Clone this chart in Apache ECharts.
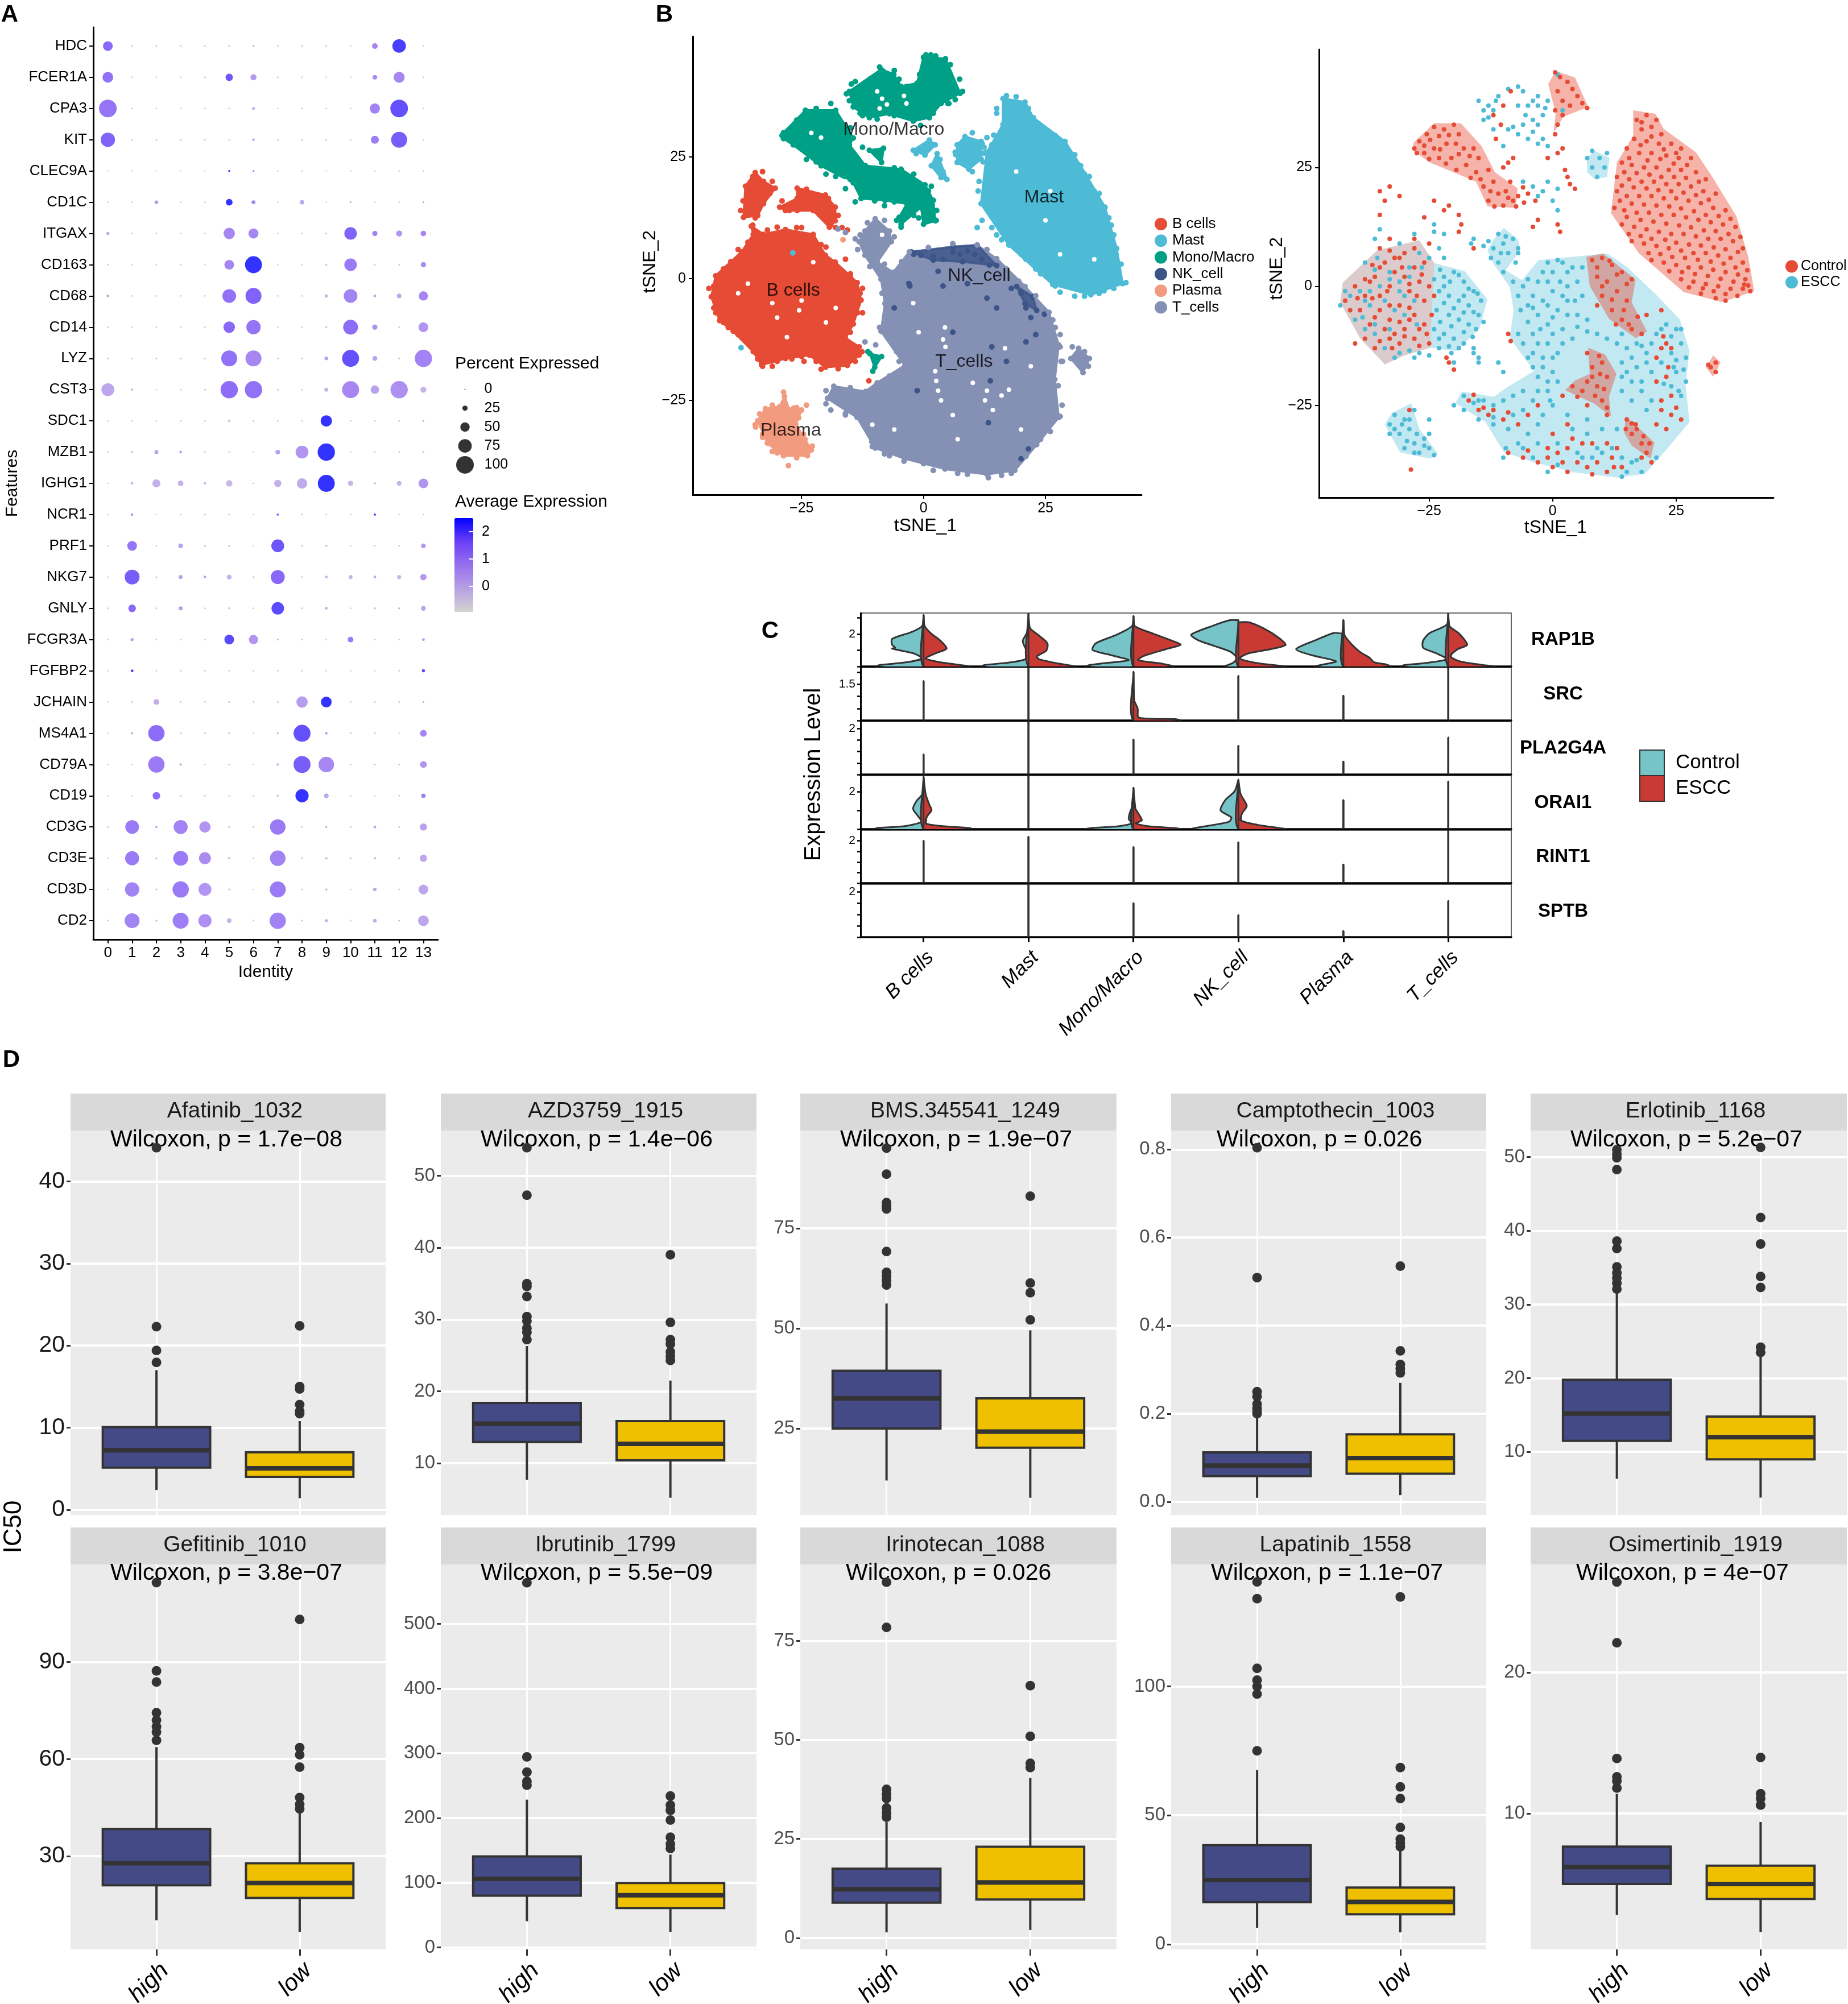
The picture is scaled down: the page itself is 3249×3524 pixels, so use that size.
<!DOCTYPE html>
<html>
<head>
<meta charset="utf-8">
<title>scRNA figure</title>
<script src="https://cdn.jsdelivr.net/npm/echarts@6/dist/echarts.min.js"></script>
<style>html,body{margin:0;background:#fff}#main{width:3249px;height:3524px}</style>
</head>
<body>
<div id="main"></div>
<script>
// ---------- panel A: dot plot ----------
var dotIdents = ['0','1','2','3','4','5','6','7','8','9','10','11','12','13'];
var dotGenes = ['HDC','FCER1A','CPA3','KIT','CLEC9A','CD1C','ITGAX','CD163','CD68','CD14','LYZ','CST3','SDC1','MZB1','IGHG1','NCR1','PRF1','NKG7','GNLY','FCGR3A','FGFBP2','JCHAIN','MS4A1','CD79A','CD19','CD3G','CD3E','CD3D','CD2'];
var dotPercent = [
[52,3,3,3,3,3,5,3,3,3,3,28,75,3],
[58,3,3,3,3,38,30,3,3,3,3,22,60,3],
[100,3,3,3,3,3,10,3,3,3,3,55,100,3],
[80,3,3,3,3,3,8,3,3,3,3,42,90,3],
[1,1,1,1,1,5,4,2,2,1,2,2,2,2],
[3,3,15,3,3,34,17,2,20,2,5,2,2,5],
[12,2,2,2,2,62,54,2,2,3,69,25,30,27],
[3,2,2,2,2,52,96,2,2,5,69,3,3,25],
[10,2,3,3,2,76,90,2,3,12,76,10,22,49],
[3,2,2,2,3,63,80,2,2,5,83,25,3,52],
[4,2,3,3,3,90,90,4,3,15,96,22,3,98],
[71,8,2,3,4,98,98,4,3,17,96,44,98,29],
[2,2,2,3,2,5,3,3,2,62,3,3,3,5],
[3,6,17,10,3,3,3,22,71,98,3,3,3,4],
[2,8,42,27,8,32,3,37,56,96,25,6,22,52],
[2,6,2,3,3,3,2,6,3,3,3,6,2,2],
[2,52,3,22,5,5,2,71,3,6,3,3,3,22],
[2,83,4,17,10,22,3,78,3,10,17,10,17,32],
[3,39,3,17,3,5,3,69,3,10,3,5,5,22],
[2,12,2,2,2,52,49,4,3,2,27,3,2,10],
[2,10,2,3,3,3,3,3,3,2,3,2,3,12],
[2,3,27,3,3,4,3,4,62,58,3,3,3,5],
[2,8,92,3,3,4,2,5,96,10,4,3,2,34],
[2,2,92,8,2,3,2,8,96,87,3,3,3,34],
[2,2,39,3,3,3,3,5,73,22,3,2,3,20],
[3,76,8,78,62,5,3,87,3,6,3,10,3,37],
[2,78,5,83,66,6,3,87,3,7,4,6,4,37],
[2,80,5,92,71,5,2,90,3,6,2,15,3,52],
[3,83,5,90,73,22,3,92,3,12,3,15,4,58]
];
var dotExpr = [
[1.6,-.4,-.4,-.4,-.4,-.2,0,-.4,-.4,-.4,-.4,.9,2.3,-.4],
[1.4,-.4,-.4,-.4,-.4,1.9,.5,-.4,-.4,-.4,-.4,.8,.9,-.4],
[1.3,-.4,-.4,-.4,-.4,-.3,.2,-.4,-.4,-.4,-.4,1,2,-.4],
[1.7,-.4,-.4,-.4,-.4,-.3,.3,-.4,-.4,-.4,-.4,1.1,1.8,-.4],
[-.3,-.3,-.3,-.3,-.3,2.5,1.2,-.3,-.3,-.3,-.3,-.3,-.3,-.3],
[-.4,-.4,.6,-.4,-.4,2.5,.9,-.4,.2,-.4,.1,-.4,-.4,.3],
[.2,-.4,-.4,-.4,-.4,.9,.9,-.4,-.4,-.4,1.7,1,.6,.9],
[-.4,-.4,-.4,-.4,-.4,.9,2.5,-.4,-.4,-.2,1.2,-.4,-.4,.8],
[.1,-.4,-.4,-.4,-.4,1.4,1.7,-.4,-.4,0,1,.2,.2,.9],
[-.4,-.4,-.4,-.4,-.4,1.6,1.3,-.4,-.4,-.3,1.5,.7,-.4,.6],
[-.3,-.4,-.4,-.4,-.4,1.4,.9,-.3,-.4,.3,2,.3,-.4,1],
[.2,-.2,-.4,-.4,-.3,1.5,1.4,-.3,-.4,-.1,.9,.3,.7,-.1],
[-.4,-.4,-.4,-.3,-.4,.2,-.3,-.3,-.4,2.5,-.2,-.4,-.4,.1],
[-.4,-.2,.3,.2,-.4,-.3,-.4,.3,.6,2.5,-.4,-.4,-.4,-.2],
[-.4,0,0,-.1,-.2,-.2,-.4,0,.1,2.5,-.1,-.2,-.1,.6],
[-.4,1.5,-.4,-.3,-.3,-.3,-.4,1.8,-.3,-.3,-.2,2.5,-.4,-.4],
[-.4,1.3,-.4,.3,-.2,-.2,-.4,1.9,-.3,-.2,-.3,-.3,-.3,.6],
[-.4,1.8,-.3,.3,.2,-.1,-.3,1.6,-.3,0,-.1,.2,-.1,.5],
[-.3,1.6,-.3,.4,-.3,-.2,-.3,2.1,-.3,0,-.3,-.1,-.1,.3],
[-.4,.3,-.4,-.4,-.4,2.1,.6,-.1,-.3,-.4,1.2,-.3,-.4,.3],
[-.4,2.3,-.4,-.3,-.3,-.3,-.3,-.3,-.3,-.4,-.3,-.4,-.3,2.2],
[-.4,-.3,.1,-.3,-.3,-.2,-.3,-.2,.4,2.5,-.3,-.3,-.3,-.1],
[-.4,0,1.5,-.3,-.3,-.2,-.4,-.1,2,.1,-.3,-.3,-.4,.9],
[-.4,-.4,1.2,-.1,-.4,-.3,-.4,-.1,1.8,.9,-.3,-.3,-.3,.6],
[-.4,-.4,1.5,-.3,-.3,-.3,-.3,-.1,2.5,.1,-.3,-.4,-.3,1],
[-.3,1.2,-.1,1,.6,-.2,-.3,1.2,-.3,-.1,-.3,.2,-.3,.3],
[-.4,1.2,-.2,1.2,.8,-.1,-.3,1,-.3,-.1,-.2,0,-.2,.2],
[-.4,1,-.2,1.2,.6,-.2,-.4,1.2,-.3,-.1,-.4,.1,-.3,.2],
[-.3,1,-.2,1.1,.7,-.1,-.3,1,-.3,0,-.3,.1,-.2,.2]
];
var pctLegend = [0,25,50,75,100];
var exprTicks = [0,1,2];

// ---------- panel B: tSNE maps ----------
// The maps hold several thousand cells. The clusters are kept as outlines read off the
// picture, with a hand-read sample of individual cells drawn on top of them.
var cellTypes = ['B cells','Mast','Mono/Macro','NK_cell','Plasma','T_cells'];
var cellColors = ['#E64B35','#4DBBD5','#00A087','#3C5488','#F39B7F','#8491B4'];
var clusterLabels = [[-26.7,-2.5],[24.7,16.7],[-6.1,30.6],[11.4,.6],[-27.2,-31.2],[8.3,-17.1]];
var bOutlines = [
[[-43.5,-3.7],[-42.6,.6],[-37.3,5.5],[-34.9,9.1],[-35.3,10.8],[-32.8,9.1],[-28.3,10.1],[-22.6,9.1],[-20.1,4.8],[-18.1,3.4],[-13.6,-.8],[-12.8,-4.4],[-14.4,-9.3],[-16,-12.2],[-13.2,-14],[-13.2,-15.7],[-15.6,-17.8],[-20.1,-18.2],[-23.4,-15.7],[-28.3,-16.4],[-33.2,-17.7],[-34.9,-15],[-39,-10.8],[-41.8,-8.6]],
[[-36.9,12.6],[-36.5,19],[-34.5,21.8],[-32.8,20],[-30.4,18.6],[-32.8,15.4],[-34,13]],
[[-29.5,14.7],[-25.9,16.5],[-25.9,18.6],[-20.1,17.2],[-18.1,14.7],[-18.1,11.9],[-19.3,10.6],[-22.6,14],[-25.9,14],[-28.3,14]]
];
var mastOutlines = [
[[16.3,37],[20.8,36.3],[22.5,33.1],[29,28.2],[32.2,23.2],[37.2,14.7],[39.6,6.2],[40.8,-1],[34.3,-3.3],[26.5,-1.2],[17.5,6.9],[11.8,15.4],[13,26],[16.3,31.7]],
[[6.9,27.5],[8.5,29.2],[11.8,28.2],[11.8,24.6],[9.3,22.5],[6.9,23.9]],
[[-2.1,26.4],[1.2,28.5],[2.4,27.5],[.3,25.4]],
[[1.6,23.2],[2.8,25.7],[4.8,20.4],[3.6,20.8]]
];
var monoOutlines = [
[[-15.2,38.5],[-8.7,43],[-6.1,42],[-4.6,39.5],[-1.3,40.2],[0,45.5],[4.5,45.2],[7.5,38.1],[3.6,36],[1.2,33.1],[-2.1,32.4],[-7,33.9],[-11.1,33.1],[-14.4,35.3]],
[[-28.7,30],[-24.2,34.6],[-18,34.6],[-14.4,28.9],[-15.2,27.5],[-11.9,23.2],[-4.6,22.5],[.3,19.3],[2,16.1],[2.4,11.9],[0,11.2],[-.5,14.7],[-4.6,11.2],[-5,12.6],[-3.4,15.4],[-7.9,16.1],[-12.8,16.5],[-14.4,19.7],[-21,23.2],[-26.7,27.5],[-28.7,28.8]],
[[-11.1,26.4],[-8.2,26.8],[-8.6,23.9]],
[[-11,-15.4],[-8.6,-16],[-10,-18.2]]
];
var tOutlines = [
[[-12,9.8],[-9.9,12.3],[-7,9.8],[-6.6,7.6],[-9.5,3.4],[-6.2,1.3],[-2.9,5.5],[11,6.9],[15,4.1],[20.8,-1.6],[25.7,-6.9],[27.7,-13.6],[26.9,-20.7],[27.7,-28.5],[23.2,-34.1],[18.7,-39.4],[13,-40.2],[4.4,-39.1],[-3.8,-37],[-9.9,-34.8],[-13.6,-28.5],[-19.7,-24.6],[-18.4,-22.1],[-11.9,-23.2],[-9.5,-21.4],[-3.8,-17.8],[-8.7,-10.8],[-7.9,-5.1],[-8.7,-.1],[-12,4.8],[-13.2,7.6]],
[[30.2,-16.4],[31.8,-14.3],[34,-16.4],[32.7,-19.3]]
];
var nkOutlines = [
[[-2.5,5.5],[6.1,6.6],[11,6.9],[15,2.7],[8,3.5],[2,3.8]],
[[19.1,-1.6],[22.4,-3.7],[23.2,-6.5],[20.8,-5.1]]
];
var plasmaOutlines = [
[[-34,-29.2],[-32.4,-26.7],[-29.5,-26.3],[-28.5,-24.2],[-27.5,-27],[-25,-27],[-26.2,-29.9],[-23,-35.2],[-23.8,-36.4],[-28.7,-36.4],[-32,-33.8]]
];
var bCells = [[-35,11],[-34.5,12.5],[-38,6],[-41,-9],[-44,-2],[-43,-6],[-30,10.6],[-26,10.5],[-23,8],[-18.5,2],[-15,1],[-12.5,-2],[-12.5,-7],[-15,-11],[-17,-13],[-14,-17],[-21,-18.6],[-22,-17],[-25,-16],[-30,-17],[-33,-18],[-36,-13],[-37,-11],[-40,-10],[-16,4],[-20,6.5],[-16.7,10.5],[-15.6,10],[-11.2,-21],[-37,16],[-36,14],[-33,17],[-31.5,17.5],[-28,14.5],[-27,15],[-23,17.6],[-21,16],[-18,13],[-19,11],
[-43,-1.5],[-41,2],[-39.5,3.5],[-36,7.5],[-32,10],[-25,10.5],[-21,7],[-19.5,4],[-15,.5],[-13,-3],[-13.5,-7],[-15.5,-10.5],[-12.6,-15],[-14.5,-16.5],[-17.5,-18.5],[-24.5,-17],[-27,-16.5],[-31,-18],[-34,-16.5],[-38,-11.5],[-40,-10],[-42.6,-7],[-37.5,14],[-36,18],[-33,22],[-35,21],[-31,20],[-29,16],[-27.5,14],[-24,18.4],[-19.5,16.5],[-17.5,13],[-18,10.5]];
var mastCells = [[15,35],[19,37.4],[24,31],[27,29.4],[31,25.5],[34,21],[36,17.5],[38.5,11],[40.5,3],[41.5,-.8],[37,-2.5],[33,-3.6],[27,-1.5],[23,2],[20,5],[15,9],[12,12],[11,10.5],[11.2,18],[12.2,24],[14,27.5],[13,29],[28,-.5],[37.5,-1.2],[-26.8,5.3],[-37.4,-14.2],[10,30],[6.5,26],[-1.5,25.7],[3.4,24.5],[4,22],
[17,37.6],[15,34],[21.5,35],[23.5,31.8],[26,30],[33,21.5],[35,18],[38,12.5],[39,9],[39,-2],[36,-3],[31,-3.6],[28,-2.8],[24,1],[21,4],[16,8],[14,10.5],[11.4,20],[12.4,27],[14.4,29.5],[6.6,25.5],[10,22],[12.4,25.8],[12,27.8]];
var monoCells = [[-8.2,42.6],[-11,39.6],[-14.8,40],[-15.2,36.6],[-5,41],[-2.8,38],[.5,46],[2.5,45.8],[7.4,41],[6.5,36.8],[5.2,36],[1,34],[-.6,31.5],[-12.5,33.5],[-19,36],[-26,32],[-22,24],[-23,26],[-18,21],[-13,20],[-14,15.8],[-8,15],[-6,15.8],[-1,19],[1.6,19],[1.5,13],[-2,13],[-3.6,13],[-4.6,10.6],[-11.4,-15],[-10.4,-19],
[-15.8,38],[-14,40.5],[-11,41],[-9,43.5],[-6,42.8],[-3.5,39.5],[-.8,42],[1.5,46],[5.5,44],[8,38.5],[5,36],[2,34],[-6,33.5],[-9.5,32.8],[-13,34],[-29,29.4],[-26,32.6],[-22,35],[-15,31],[-12.5,27],[-13,22],[-6,22.8],[-2,21.5],[1,18],[2.7,14],[2.6,12],[-1,12.5],[-5.5,12],[-10,16],[-16,18.5],[-20,21.5],[-24,24.5]];
var nkCells = [[-2,5],[-.5,4.8],[2,4.5],[4,4],[6,5.5],[7.5,5],[9,5.7],[10.5,5],[12,4],[13.5,2.8],[-6,-6],[-3,-1],[-2.8,-1.5],[3,1.5],[4,-1.5],[9,-1],[13,-4],[15,-6],[18,-2],[20,-3],[21,-6],[22,-8],[24.8,-7.3],[6,-11],[14,-14],[17,-17],[21,-13],[23,-11.5],[13.7,-21],[13.3,-29.6],[21.5,-35],[20,-37],[-1.3,-23]];
var plasmaCells = [[-28.7,-23.3],[-26,-26.5],[-24,-26],[-27.7,-38.4],[-34.5,-30],[-33,-32],[-24.3,-33],[-16.5,8],[-31,-35.5],[-29,-35],[-27,-30.5],
[-34.4,-30.5],[-33.6,-27.8],[-31,-26],[-26.6,-26.6],[-25.6,-28.6],[-24.6,-32],[-22.8,-34.4],[-26,-36.8],[-30,-35.8],[-33,-32.6]];
var tCells = [[-14,8.2],[-13.5,6],[-11,2.5],[-8,3],[-12,-13],[-9,-10],[-9.8,-13.6],[-5,-17],[-7,-20.5],[-20,-25.7],[-19,-27],[-16,-27.7],[-11.5,-29],[-10.5,-34.5],[-8,-36],[-4,-37.5],[2,-39.4],[9,-40.2],[13.3,-40.9],[18,-40],[26,-25],[28,-28.3],[25.5,-31],[28,-14],[27,-10],[30.5,-14],[33.8,-18],[33,-15],[28.5,-17],[-16,9.5],[-17.5,10.2],
[-13,9],[-11.5,11.5],[-8,12],[-6,8.6],[-8.5,1.5],[-4.5,3.5],[1,6.4],[6,7.2],[13,6],[17,2],[19.5,-.5],[23,-3.5],[26.5,-8.5],[28,-11.5],[28.2,-17],[27.6,-22],[28.4,-26],[26,-31.4],[24,-33],[21,-36.5],[16,-40.4],[7,-40],[0,-38],[-7,-36.4],[-10.6,-33.5],[-12,-30.5],[-16,-28],[-20,-23],[-15,-22.4],[-7,-20],[-5.5,-15],[-8,-8.5],[-8.5,-3]];
var bGaps = [[-25.5,-6.5],[-25,-4.5],[-22.6,3.4],[-36,-1],[-31,-5],[-20,-9],[-28,-12],[-8.5,37],[-7.5,35.8],[-9,35],[-9.5,38.5],[-3.5,36],[-4,37.6],[-21,29],[-23,30],[-16,20],[2.4,-19],[2.6,-21],[3,-23],[3.6,-25],[12.6,-25],[14.2,-27],[13,-23],[4.4,-10],[4,-12.5],[4.5,-14],[-2.1,-5],[16.7,-14.3],[17.5,-22.8],[16,-24],[10.1,-21.4],[6,-28],[-1,-11],[-8.5,9],[22,-18],[28,5],[25,12],[21,2],[35,4],[19,22],[26,18],[-10.5,-30],[-6,-31],[7,-33],[20,-31],[-30,-8],[-38,-3],[-18,-6]];

var rControlZones = [mastOutlines[0],
[[-28.2,30.2],[-24,34.3],[-18.6,34.3],[-14.4,29.5],[-11.7,24],[-7.1,20.6],[-7.5,16.5],[-13.2,16.8],[-15.5,22],[-24.8,26],[-28.2,28.5]],
[[-.9,42.5],[.6,45.3],[4.5,43.9],[7.2,37.7],[2.2,35.7],[.2,32.3],[.6,36.4]],
[[6.8,6.2],[10.2,6.9],[16.8,1.4],[16,-3.4],[19.1,-9.5],[16.8,-10.9],[11.4,-6.8],[7.5,.1]],
[[7.2,-12.9],[10.6,-14.3],[12.9,-18.4],[11.4,-23.2],[11.8,-27.3],[8.3,-24.6],[2.5,-21.8],[4.5,-19.8],[7.5,-18.4]],
[[14.8,-27.3],[20.6,-32.8],[19.8,-36.2],[16,-33.5],[14.5,-30.8]],
[[31,-17],[32.5,-14.5],[34,-16],[32.5,-19]]
];
var rEsccZones = [tOutlines[0],
[[-24,4.9],[-17.8,3.2],[-13.2,-2.7],[-14.8,-8.8],[-19.4,-13.6],[-24.8,-12.9]],
[[-34,-29],[-32.5,-26.6],[-28.6,-24.6],[-27,-30],[-23.2,-35.2],[-24.8,-36.2],[-30.9,-34.9]],
[[6.9,27],[8.5,28.5],[11.5,27],[11,23],[8.5,22.5],[7,24]]
];
var rMixZones = [
[[-43,-3.4],[-42.5,.8],[-35.5,7.6],[-27,9.7],[-24,4.9],[-24.8,-12.9],[-30,-14.5],[-34,-16.4],[-39,-10.9]]
];
var controlCells = [[17,35],[19,36],[21,35],[18,33],[20,33.5],[22,32],[16.5,31],[19,30.5],[21.5,30],[24,30],[26,29],[15,29],[17.5,28],[20,28],[23,27.5],[25.5,27],[28,27],[14,26],[16,25.5],[18.5,25],[21,25],[23.5,24.5],[26,24.5],[29,24],[31,22.5],[13,23],[15.5,22.5],[18,22],[20.5,22],[23,21.5],[25.5,21.5],[28,21],[30.5,20],[33,19.5],[13,20],[15,19],[17.5,19],[20,19],[22.5,18.5],[25,18.5],[27.5,18],[30,17.5],[32.5,16.5],[35,16],[12.5,16.5],[14.5,16],[17,15.5],[19.5,15.5],[22,15],[24.5,15],[27,14.5],[29.5,14],[32,13.5],[34.5,13],[37,12.5],[14,13],[16.5,12.5],[19,12],[21.5,11.5],[24,11],[26.5,11],[29,10.5],[31.5,10],[34,10],[36.5,9.5],[38.5,8],[16,9.5],[18.5,9],[21,8.5],[23.5,8],[26,7.5],[28.5,7],[31,7],[33.5,6.5],[36,6],[38.5,5],[20,5.5],[22.5,5],[25,4.5],[27.5,4],[30,4],[32.5,3.5],[35,3],[37.5,2.5],[39,1.5],[26,1.5],[28.5,1],[31,.5],[33.5,0],[36,-.5],[38.5,-.5],[40,-1],[30,-1.5],[33,-2.5],[35,-3],
[18,34.5],[20,31.5],[17.8,29.7],[22.5,28.8],[25,28],[15.5,27],[19.2,26.5],[21.8,26.8],[24.5,25.8],[27.2,25.5],[14.5,24],[17,23.8],[19.6,23.5],[22,23],[24.6,23],[27,22.8],[29.6,22],[14,21.2],[16.4,20.8],[19,20.6],[21.4,20.2],[24,20],[26.5,19.7],[29,19.2],[31.6,18.2],[13.6,18],[16,17.4],[18.5,17.2],[21,17],[23.6,16.8],[26,16.4],[28.6,15.8],[31,15],[33.6,14.8],[36,14.2],[15,14.6],[17.8,14],[20.4,13.6],[23,13.2],[25.6,12.8],[28,12.4],[30.6,11.8],[33,11.6],[35.6,11],[38,10.4],[15.4,11],[17.8,10.6],[20,10],[22.8,9.8],[25,9.2],[27.6,8.8],[30,8.6],[32.6,8.2],[35,7.8],[37.5,7.2],[19.4,7],[21.8,6.8],[24.2,6.2],[26.8,6],[29.4,5.6],[32,5.2],[34.6,4.8],[37,4],[39.4,3.4],[23.6,3.2],[26.2,3],[28.8,2.6],[31.4,2.2],[34,1.6],[36.6,1],[38.8,.4],[27.6,-.2],[30.4,-.4],[32.6,-1],[35,-1.6],[37.4,-2],[39.6,.2],
[-28,29],[-27,30.5],[-25.5,32],[-24,33.5],[-22,33],[-20,34],[-19,32],[-21.5,30],[-24,29],[-26,28],[-23,27],[-20.5,27],[-18,29],[-16,29],[-15,27],[-17.5,25.5],[-15.5,24],[-13,24.5],[-12,22],[-14,21],[-11,19.5],[-13,18],[-9.5,20],[-8,18],[-10,17],[-7,19],[-5,19.5],[-3.5,18],[-9,26],[-8,27],[-10,25],[-1,27],[1,28],[2,29],[2.5,24.5],[3,23],[3.5,21.5],[4.5,20.5],[-3,14],[-4,12.5],[1,13],[1.5,11.5],[-12,36],[-10.5,34],[-11.5,31],[-10,38],[-8.5,41],
[-27.5,28],[-26,29.6],[-24.8,30.8],[-23,31.6],[-21,31.8],[-19.6,30],[-22.8,28.8],[-25,26.8],[-21.6,25.8],[-19,27.8],[-16.8,27.4],[-19.5,24.5],[-16.6,22.8],[-14.6,22.5],[-12.6,20],[-11.8,16.8],[-9,18.6],[-7.4,16.8],[-5.8,17.6],[-8.6,22],[-6,20.8],
[.5,45],[1.5,44],[3,43],[4,41.5],[5,40],[6,38.5],[7,37.5],[1,41],[2,39],[3.5,38],[.5,37],[2,36],[1,34],[.5,32],
[-42,-3],[-40,0],[-38,-2],[-36,2],[-34,5],[-32,3],[-30,7],[-28,4],[-27,1],[-29,-1],[-31,-4],[-33,-7],[-35,-5],[-37,-8],[-39,-5],[-30,-9],[-28,-6],[-26,-3],[-25,0],[-26,-8],[-28,-11],[-31,-12],[-33,-11],[-35,8],[-33,10],[-28,10],[-25,9],[-24,-2],[-24.5,-6],[-25,-12],[-36,-13],[-40,-12],[-37,1],[-33,0],[-30,2],[-35,-2],[-32,-10],[-29,-7],[-27,-9],[-26,5],[-31,6],
[-41,-5],[-39.5,-2.5],[-38,1.5],[-36.5,-2.5],[-35,4],[-33.5,-1],[-32,6],[-30.5,4],[-29,.5],[-27.5,-2],[-33,-4],[-31,-7.5],[-29,-4.5],[-36,-6.5],[-34,-9],[-30,-10.5],[-27,-12.5],[-25.5,-10],[-26.5,2.5],[-28,8],[-33,7.5],[-36.5,4.5],[-38,-11],[-35,-11.5],[-32.5,-13],
[-35,20],[-34,18],[-35,15],[-33,21],[-31,19],[-26,14.5],[-24,18],[-21,17],[-19,15],[-18.5,13],[-19,11.5],[-22,16],
[-21,-16],[-20,-17.5],[-21.5,-15],[-9,-10],[-8.5,-11.5],[-16,8],
[8,5.5],[10,6],[12,4.5],[14,3],[16,1.5],[9,2],[11,1],[13,-1],[15,-3],[10,-2],[12,-5],[14,-7],[16,-9],[18,-10],[19,-6],[22,-5],
[9,4],[11.5,5.4],[13,2.5],[15,.5],[10,0],[12,-2.8],[14.4,-5],[12.8,-8],[15.4,-8],[17.2,-6.4],[9,-4],
[7,-14],[8,-17],[10,-16],[11,-19],[9,-21],[6,-22],[4,-21],[2,-23],[7,-25],[10,-24],[11,-27],
[8,-19],[9.6,-18.4],[7,-20],[5,-23.2],[8.6,-23],[10.4,-21.6],[9.4,-14.6],[11,-25.5],
[15,-28],[16,-31],[18,-33],[19,-35],[17,-30],[21,-29],[22,-26],[24,-27],[26,-28],[22,-24],[24,-23],[21,-15],[22,-13],[23,-12],[21,-20],[23,-19],
[16.8,-29],[18.4,-31.5],[19.6,-33],[16,-28.8],[14.8,-30],[18,-36],[20,-37],[23,-30],[25,-25.5],[23.4,-17],[22.4,-10.5],[24,-13],
[-9,-35],[-6,-36],[-3,-37],[-1,-36],[1,-35],[3,-34],[5,-37],[7,-38],[9,-37],[11,-39],[12,-36],[13,-34],[11,-33],[14,-38],[-17,-24],[-15,-26],[-13,-27],[-10,-28],[-7,-29],[-5,-27],[-3,-25],[0,-31],[3,-29],[33,-16],[32,-17],[33,-18],[31.5,-16.5],[-28.7,-38.5],[-29,-26],
[6,-33],[8,-33],[4,-32],[2,-37],[-1,-34],[-5,-34.5],[0,-38],[3,-39],[8,-39.5],[12.4,-38],[-12,-26],[-9,-26.5],[-14,-25.5],[-16,-22.8]];
var esccCells = [[-22,2],[-20,3],[-18,1],[-16,-1],[-14.5,-3],[-23,-1],[-21,-2],[-19,-3],[-17,-4],[-15,-6],[-23.5,-5],[-21,-6],[-19,-7],[-17,-8],[-15.5,-9],[-24,-9],[-22,-10],[-20,-11],[-18,-12],[-23,-13],[-20.5,-14],
[-22.8,3.5],[-20.8,1],[-19,2.4],[-17,-.5],[-15.2,-1.5],[-22,-3.5],[-20,-4.6],[-18,-5.5],[-16,-5.4],[-22.8,-7.5],[-20.5,-8.4],[-18,-9.6],[-16.2,-10.6],[-23,-11],[-21,-12.6],[-19,-13],[-22,0],[-24,1.5],[-18,-2],[-14,-7.5],
[-43,-4],[-41,-2],[-39,-1],[-37,-4],[-35,0],[-33,3],[-31,1],[-29,4],[-27,7],[-34,-3],[-32,-5],[-30,-2],[-28,-3],[-40,-7],[-38,-9],[-36,-10],[-34,-13],[-32,-15],[-29,-13.5],[-27,-14],[-35.5,6],[-38,5],[-25,6],[-23,8],[-20,-16],[-16,-14],[-15,-15],[-22,6],[-35,12],[-36,10],[-24,13],[-22,11],
[-42,-1],[-38.5,-6.5],[-37,-1],[-36,3.5],[-33,1.5],[-31,-1],[-29,2],[-26.5,4],[-30,-6],[-27.5,-8],[-33,-9],[-36,-8],[-38,-3],[-31,9],[-28,11],[-24,11.5],[-31,-14],[-28,-15],[-25,-14.5],
[-15,39],[-14,37],[-13,38],[-11,40],[-9,41.5],[-7,42],[-6,41],[-5,38],[-4,39],[-14,35],[-12,33],[-9,33],[-7,32],[-5,31],[-3,30],[-1,29.5],[-3,34],[-2,36],[-3,38],[-1,39],[-6,34],[-10,29.5],[-6,22],[-4,21],[-2,20],[0,18],[1,16],[-1,22],[1,20.5],[-3,19],[2,37],[1,44.5],[7,27],[8,25],[9.5,27],[10.5,25],[9,23],[8,28.5],[11,28],[-16,10],[-14,8.5],
[-13,35.5],[-11.5,39],[-7,38],[-5.5,36],[-4,35],[-8,33.5],[-2,31],[-3,40],[-1.5,37.5],[-12,37],[-4,32.5],
[-12,8],[-11,11],[-10,9],[-9,7],[-8,10],[-7,8],[-11,5],[-10,3],[-8,1],[-6,0],[-3,1],[-1,5],[0,3],[2,5],[4,4],[5,1],[3,0],[0,-1],[-2,-3],[-5,-4],[-3,-6],[-1,-8],[1,-5],[3,-3],[6,-2],[5,-6],[7,-7],[2,-9],[-1,-12],[-4,-10],[-6,-12],[-5,-15],[-2,-15],[0,-18],[-3,-19],[-1,-22],[1,-14],[4,-11],[9,-10],[11,-11],[13,-12],[15,-13],[17,-12],[19,-14],[21,-10],[23,-8],[25,-9],[26,-12],[27,-15],[24,-14],[22,-16],[25,-18],[24,-21],[26,-23],[20,-18],[17,-17],[15,-18],[18,-20],[14,-22],[20,-24],[16,-24],[-18,-23],[-16,-24.5],[-14,-24],[-12,-25],[-10,-24],[-8,-23],[-6,-22],[-4,-24],[-2,-27],[-15,-28],[-12,-29],[-8,-27],[-5,-31],[-7,-33],[-3,-33],[1,-33],[4,-30],[7,-31],[9,-34],[6,-36],[10,-35],[14,-36],[16,-37],[18,-39],[14,-40],[21,-36],[-9.5,-34],[-6,-34],[-1,-39],
[-7,7],[-10.5,7],[-12.5,6],[-9.5,10.5],[-7.5,5],[-5,1.5],[-2,3],[1,5.5],[3,3],[6,4],[1.5,1],[-1,1],[-4,-2],[-7,-2],[-6.5,-5],[-4,-4.5],[-1,-4],[2,-2],[4.5,-3],[3,-6],[0,-6.5],[-2.5,-9],[-5,-7.5],[-3,-12],[0,-10],[2,-12],[5,-8.5],[7,-9.5],[-7,-10],[-4,-14],[-2,-17],[-4,-17],[0,-15],[-1,-20],[1,-20],[-.5,-24],[-3,-22],[14,-10],[18,-12.5],[20,-12],[22,-9],[24,-10.5],[26,-9],[25,-15.5],[26.5,-17.5],[27,-20],[24.5,-17],[22.5,-20.5],[25.5,-22],[19,-16],[16,-15],[14,-16],[18,-22],[16,-20],[14,-19],[19,-26],[13,-30],[10,-30],[7,-28],[3,-27],[0,-25],[-3,-29],[-6,-26],[-9,-30],[-12,-27.5],[-15,-24],[-18,-26],[-20,-25],[-10,-36],[-4,-36],[1,-37.5],[5,-35],[8,-36],[12,-34],[15,-39],[17,-36.5],
[-33,-29],[-32,-27],[-31,-31],[-30,-28],[-29,-30],[-28,-26],[-28,-33],[-26,-32],[-25,-34],[-24,-35.5],[-30,-34],[-27,-35],[-25,-28],[-33,-31],[-32,-30],[-30.5,-29],[-29,-28],[-27.5,-31],[-26,-33.5],[-29.5,-32.5],[-28,-35],[-25,-31],[-16,-13],[-15,-16],[-11,-16],[-10,-18],[-16.5,9],[-13,9.5]];

// ---------- panel C: stacked violins ----------
var violinCells = ['B cells','Mast','Mono/Macro','NK_cell','Plasma','T_cells'];
var violinGenes = ['RAP1B','SRC','PLA2G4A','ORAI1','RINT1','SPTB'];
var violinMax = [3.3,2.2,2.3,2.85,2.5,2.33];
var violinTicks = [[0,1,2,3],[0,.5,1,1.5,2],[0,.5,1,1.5,2],[0,1,2],[0,.5,1,1.5,2],[0,.5,1,1.5,2]];
var violinLabelled = [[2],[1.5],[2],[2],[2],[2]];
// top of the bare spike drawn for each gene / cell type
var violinTops = [
[3.18,3.3,3.11,2.86,2.86,3.3],
[1.64,2.2,2.02,1.85,1.03,2.2],
[.87,2.3,1.52,1.25,.56,1.61],
[2.79,2.85,2.2,2.63,1.55,2.54],
[2,2.19,1.7,1.93,.88,2.5],
[0,2.33,1.5,.97,.27,1.59]
];
// [level, half width] read per violin
var rap1bControl = [
[[0,.45],[.09,.42],[.27,.15],[.5,.015],[.8,.09],[1.1,.3],[1.16,.27],[1.34,.3],[1.7,.3],[2.14,.11],[2.5,.013],[3.18,0]],
[[0,.45],[.09,.42],[.27,.15],[.5,.014],[.98,.02],[1.57,.055],[2.14,.01],[2.75,0],[3.3,0]],
[[0,.45],[.09,.42],[.21,.27],[.39,.045],[.71,.22],[1.02,.39],[1.43,.36],[1.96,.16],[2.5,.013],[3.11,0]],
[[0,.135],[.21,.055],[.5,.013],[.89,.07],[1.25,.22],[1.61,.38],[1.96,.45],[2.5,.25],[2.86,.08],[2.86,0]],
[[0,.27],[.09,.22],[.32,.07],[.71,.31],[1.07,.45],[1.61,.27],[2.07,.09],[2.07,0],[2.86,0]],
[[0,.45],[.09,.42],[.21,.22],[.45,.014],[.8,.11],[1.16,.24],[1.61,.24],[2.05,.18],[2.59,.014],[3.3,0]]
];
var rap1bEscc = [
[[0,.45],[.09,.35],[.27,.15],[.5,.02],[.8,.11],[1.11,.22],[1.6,.16],[2.05,.07],[2.5,.01],[3.18,0]],
[[0,.45],[.2,.27],[.45,.1],[.63,.08],[.98,.17],[1.43,.18],[1.96,.09],[2.32,.02],[2.75,0],[3.3,0]],
[[0,.38],[.18,.27],[.39,.045],[.63,.09],[1.07,.31],[1.34,.45],[1.61,.36],[2.05,.18],[2.5,.013],[3.11,0]],
[[0,.45],[.21,.18],[.5,.013],[.8,.09],[1.07,.31],[1.34,.45],[1.79,.38],[2.32,.25],[2.73,.1],[2.73,0]],
[[0,.45],[.14,.4],[.27,.29],[.54,.25],[.89,.16],[1.43,.07],[1.96,.01],[2.86,0]],
[[0,.45],[.09,.33],[.32,.11],[.63,.02],[1.07,.09],[1.34,.18],[2.05,.1],[2.5,.01],[3.3,0]]
];
var orai1Control = [
[[0,.45],[.06,.45],[.16,.18],[.39,.02],[.7,.054],[1.09,.1],[1.5,.067],[1.86,.013],[2.79,0]],
null,
[[0,.45],[.06,.4],[.16,.135],[.31,.018],[.54,.045],[.85,.036],[1.24,.01],[2.2,0]],
[[0,.45],[.16,.31],[.39,.09],[.62,.067],[1,.17],[1.55,.125],[2.02,.036],[2.63,0]],
null,null
];
var orai1Escc = [
[[0,.45],[.05,.45],[.16,.18],[.31,.02],[.7,.036],[1.01,.076],[1.32,.054],[1.86,.02],[2.79,0]],
null,
[[0,.45],[.05,.4],[.16,.135],[.31,.022],[.47,.08],[.85,.045],[1.16,.013],[2.2,0]],
[[0,.45],[.23,.18],[.47,.022],[.85,.036],[1.24,.08],[1.86,.022],[2.63,0]],
null,null
];
var srcEscc = [null,null,[[0,.45],[.06,.4],[.12,.05],[.5,.04],[.8,.01],[1,.005],[2.02,0]],null,null,null];

// ---------- panel D: IC50 boxes ----------
var drugNames = ['Afatinib_1032','AZD3759_1915','BMS.345541_1249','Camptothecin_1003','Erlotinib_1168','Gefitinib_1010','Ibrutinib_1799','Irinotecan_1088','Lapatinib_1558','Osimertinib_1919'];
var drugP = ['1.7e\u221208','1.4e\u221206','1.9e\u221207','0.026','5.2e\u221207','3.8e\u221207','5.5e\u221209','0.026','1.1e\u221207','4e\u221207'];
var drugTicks = [[0,10,20,30,40],[10,20,30,40,50],[25,50,75],[0,.2,.4,.6,.8],[10,20,30,40,50],[30,60,90],[0,100,200,300,400,500],[0,25,50,75],[0,50,100],[10,20]];
var drugRange = [[-.64,46.2],[2.8,56.3],[3.4,99.4],[-.03,.843],[1.45,53.6],[1.2,120.1],[-3,592],[-2.9,94.3],[-2,147.3],[.37,27.65]];
var groups = ['high','low'];
// [whisker low, Q1, median, Q3, whisker high]
var boxHigh = [[2.4,5.12,7.24,10.07,17],[7.7,12.95,15.5,18.4,26.3],[12,25,32.5,39.4,56.2],[.009,.058,.082,.112,.19],[6.35,11.5,15.2,19.8,31.5],[10.2,21,27.8,38.4,63.7],[40.6,80,106,140.7,228.5],[1.4,8.9,12.3,17.5,29.3],[6.4,16.3,24.9,38.4,67.6],[2.8,5,6.2,7.65,11.4]];
var boxLow = [[1.4,4,5.05,7,10.8],[5.2,10.4,12.7,15.85,21.5],[7.7,20.2,24.2,32.5,49.5],[.015,.0635,.099,.153,.27],[3.8,9,12,14.8,23],[6.6,17.1,21.7,27.8,43.2],[24,61,80.7,99.6,143.5],[2,9.7,14,23,40.4],[4.6,11.6,16.4,22,36.6],[1.6,3.95,5,6.3,9.4]];
var outHigh = [[17.95,19.4,22.3,44.1],[27.2,28.2,28.8,29.8,30.4,33.2,34.6,35,47.3,53.9],[60.8,61.9,63,64,69.2,79.8,80.5,81.4,88.5,95],[.2,.206,.212,.222,.239,.25,.509,.804],[32.1,32.9,33.6,34.3,35.1,37.6,38.6,48.3,49.9,50.4,51],[65.8,68.3,70,72,74.3,83.8,87.2,114.5],[250.7,256.8,271,294.6,563.7],[30.5,31.6,32.8,35.2,36.3,37.5,78.4,89.8],[75,97,100,102.4,107,134,140.5],[11.8,12.3,12.6,13.9,22.1,26.4]];
var outLow = [[11.7,12,12.8,14.7,15,22.4],[24.3,24.9,25.5,26.6,27.2,29.6,39],[52.1,58.9,61.3,83],[.2925,.302,.312,.3425,.535],[23.5,24.2,32.3,33.8,38.2,41.8,51.3],[44.6,46,48.1,57.5,61.3,63.5,103.1],[153,160,170.4,197,212,220,234],[43,44.1,50.9,63.7],[37.8,39.3,40.8,45.3,56.5,61,68.5,134.7],[10.6,11.05,11.4,13.97]];

// ---------- layout ----------
var FONT = '"Liberation Sans", Arial, sans-serif';
var grids = [], xAxes = [], yAxes = [], series = [], graphics = [];

function txt(s, x, y, size, o) {
  o = o || {};
  graphics.push({type:'text', x:x, y:y, rotation:o.rot||0, z:o.z==null?20:o.z, silent:true,
    style:{text:s, fill:o.color||'#000', fontFamily:FONT, fontSize:size, fontWeight:o.weight||'normal', fontStyle:o.italic?'italic':'normal',
      align:o.align||'center', verticalAlign:'middle', textAlign:o.align||'center', textVerticalAlign:'middle'}});
}
function addGrid(l, t, w, h, extra) {
  // outerBoundsMode none keeps the plot rect where it is set even if labels run close to the page edge
  grids.push(Object.assign({left:l, top:t, width:w, height:h, containLabel:false, outerBoundsMode:'none'}, extra||{}));
  return grids.length-1;
}
function polygons(name, list, idx, color, opacity, width, z) {
  return {type:'custom', name:name, xAxisIndex:idx, yAxisIndex:idx, silent:true, z:z, clip:true,
    data:list.map(function(p,i){return [i]}),
    renderItem:function(params, api){
      return {type:'polygon', shape:{points:list[params.dataIndex].map(function(p){return api.coord(p)})},
        style:{fill:color, stroke:width?color:null, lineWidth:width, lineJoin:'round', opacity:opacity}};
    }};
}
function dots(name, pts, idx, color, size, z) {
  return {type:'scatter', name:name, xAxisIndex:idx, yAxisIndex:idx, data:pts, symbolSize:size, silent:true, z:z,
    itemStyle:{color:color, opacity:1}};
}
function flatten(list) { return list.reduce(function(a,b){return a.concat(b)}, []); }

// panel A
txt('A', 17, 26, 42, {weight:'bold'});
var gA = addGrid(164, 48, 606, 1604);
xAxes.push({gridIndex:gA, type:'value', min:-.6, max:13.6, splitLine:{show:false},
  axisLine:{onZero:false, lineStyle:{color:'#000',width:3}}, axisTick:{customValues:dotIdents.map(Number), length:7, lineStyle:{color:'#000',width:2}},
  axisLabel:{customValues:dotIdents.map(Number), fontSize:26, color:'#000', margin:11, fontFamily:FONT}});
yAxes.push({gridIndex:gA, type:'value', inverse:true, min:-.6, max:28.6, splitLine:{show:false},
  axisLine:{onZero:false, lineStyle:{color:'#000',width:3}}, axisTick:{customValues:dotGenes.map(function(g,i){return i}), length:7, lineStyle:{color:'#000',width:2}},
  axisLabel:{customValues:dotGenes.map(function(g,i){return i}), fontSize:26, color:'#000', margin:11, fontFamily:FONT, formatter:function(v){return dotGenes[v]}}});
var dotData = [];
dotGenes.forEach(function(g,r){ dotIdents.forEach(function(id,c){ dotData.push([c,r,dotPercent[r][c],dotExpr[r][c]]) }) });
var dotSeriesIndex = series.length;
series.push({type:'scatter', name:'dots', xAxisIndex:gA, yAxisIndex:gA, data:dotData, silent:true, symbolSize:function(v){return 2+.29*v[2]}});
txt('Identity', 467, 1710, 30);
txt('Features', 22, 850, 30, {rot:Math.PI/2});
txt('Percent Expressed', 800, 640, 30, {align:'left'});
txt('Average Expression', 800, 883, 30, {align:'left'});

var gLeg = addGrid(797.5, 668, 40, 166);
xAxes.push({gridIndex:gLeg, type:'value', min:-1, max:1, show:false});
yAxes.push({gridIndex:gLeg, type:'value', inverse:true, position:'right', min:-.5, max:4.5, splitLine:{show:false}, axisLine:{show:false, onZero:false}, axisTick:{show:false},
  axisLabel:{customValues:pctLegend.map(function(p,i){return i}), fontSize:25, color:'#000', margin:14, fontFamily:FONT, formatter:function(v){return String(pctLegend[v])}}});
series.push({type:'scatter', name:'percentLegend', xAxisIndex:gLeg, yAxisIndex:gLeg, silent:true, itemStyle:{color:'#000'},
  data:pctLegend.map(function(p,i){return [0,i,p]}), symbolSize:function(v){return 2+.29*v[2]}});

var gBar = addGrid(799, 911, 33, 165);
xAxes.push({gridIndex:gBar, type:'value', min:0, max:1, show:false});
yAxes.push({gridIndex:gBar, type:'value', position:'right', min:-.94, max:2.5, z:6, splitLine:{show:false}, axisLine:{show:false, onZero:false},
  axisTick:{customValues:exprTicks, inside:true, length:7, lineStyle:{color:'#fff',width:2}},
  axisLabel:{customValues:exprTicks, fontSize:25, color:'#000', margin:15, fontFamily:FONT}});

// panel B
txt('B', 1168, 26, 42, {weight:'bold'});
function tsneAxes(g) {
  var common = {splitLine:{show:false}, axisLine:{onZero:false, lineStyle:{color:'#000',width:3}}, axisTick:{customValues:[-25,0,25], length:7, lineStyle:{color:'#000',width:2}},
    axisLabel:{customValues:[-25,0,25], fontSize:25, color:'#000', margin:12, fontFamily:FONT, formatter:function(v){return String(v).replace('-','\u2212')}}};
  xAxes.push(Object.assign({gridIndex:g, type:'value', min:-47.3, max:44.7}, common));
  yAxes.push(Object.assign({gridIndex:g, type:'value', min:-44.4, max:49.8}, common));
}
var gTsne = addGrid(1218, 64, 789, 806);
tsneAxes(gTsne);
var outlineSets = [bOutlines, mastOutlines, monoOutlines, nkOutlines, plasmaOutlines, tOutlines];
var cellSets = [bCells, mastCells, monoCells, nkCells, plasmaCells, tCells];
[5,0,1,2,4].forEach(function(k){
  series.push(polygons('outline '+cellTypes[k], outlineSets[k], gTsne, cellColors[k], 1, 4, 2));
});
series.push(polygons('outline NK', nkOutlines, gTsne, cellColors[3], .8, 4, 3));
series.push(dots('gaps', bGaps, gTsne, '#fff', 8, 4));
cellTypes.forEach(function(n,k){
  series.push(dots(n, flatten(outlineSets[k]).concat(cellSets[k]), gTsne, cellColors[k], 10, 5));
});
series.push({type:'scatter', name:'clusterNames', xAxisIndex:gTsne, yAxisIndex:gTsne, silent:true, symbolSize:0, z:8,
  data:cellTypes.map(function(n,k){return {name:n, value:clusterLabels[k]}}),
  label:{show:true, position:'inside', formatter:'{b}', fontSize:32, color:'#000', fontFamily:FONT}});
txt('tSNE_1', 1627, 925, 32);
txt('tSNE_2', 1143, 460, 32, {rot:Math.PI/2});

var gTsne2 = addGrid(2319, 87, 799, 788);
tsneAxes(gTsne2);
series.push(polygons('escc zones', rEsccZones, gTsne2, '#4DBBD5', .34, 0, 2));
series.push(polygons('mix zones blue', rMixZones, gTsne2, '#4DBBD5', .22, 0, 2));
series.push(polygons('mix zones red', rMixZones, gTsne2, '#E64B35', .22, 0, 2));
series.push(polygons('control zones', rControlZones, gTsne2, '#E64B35', .42, 0, 3));
series.push(dots('ESCC', esccCells, gTsne2, '#4DBBD5', 8, 4));
series.push(dots('Control', controlCells, gTsne2, '#E64B35', 8, 5));
txt('tSNE_1', 2735, 928, 32);
txt('tSNE_2', 2245, 472, 32, {rot:Math.PI/2});

// panel C
txt('C', 1354, 1110, 42, {weight:'bold'});
var violinRows = [[1078,1172],[1174,1267],[1269,1362],[1364,1458],[1460,1553],[1555,1648]];
var controlTable = {RAP1B:rap1bControl, ORAI1:orai1Control};
var esccTable = {RAP1B:rap1bEscc, ORAI1:orai1Escc, SRC:srcEscc};
var geneLabelY = [1125,1221,1316,1412,1507,1603];
violinGenes.forEach(function(gene,r){
  var g = addGrid(1513, violinRows[r][0], 1144, violinRows[r][1]-violinRows[r][0], {show:true, borderColor:'#333', borderWidth:1.5, backgroundColor:'transparent'});
  var last = r===violinGenes.length-1;
  xAxes.push({gridIndex:g, type:'value', min:-.6, max:5.6, splitLine:{show:false}, axisLine:{onZero:false, lineStyle:{color:'#000',width:3.5}},
    axisTick:{show:last, customValues:[0,1,2,3,4,5], length:9, lineStyle:{color:'#000',width:3}},
    axisLabel:{show:last, customValues:[0,1,2,3,4,5], rotate:45, align:'right', verticalAlign:'top', fontSize:35, fontStyle:'italic', color:'#000', margin:18, fontFamily:FONT, formatter:function(v){return violinCells[v]}}});
  yAxes.push({gridIndex:g, type:'value', min:0, max:violinMax[r], splitLine:{show:false}, axisLine:{onZero:false, lineStyle:{color:'#000',width:3}},
    axisTick:{customValues:violinTicks[r], length:6, lineStyle:{color:'#000',width:2.5}},
    axisLabel:{customValues:violinLabelled[r], fontSize:21, color:'#000', margin:9, fontFamily:FONT}});
  var items = [];
  violinCells.forEach(function(c,k){
    var spike = [[0,0],[violinTops[r][k],0]];
    items.push({cat:k, side:-1, fill:'#76C3C8', prof:(controlTable[gene]&&controlTable[gene][k])||spike});
    items.push({cat:k, side:1, fill:'#C93A35', prof:(esccTable[gene]&&esccTable[gene][k])||spike});
  });
  series.push({type:'custom', name:gene, xAxisIndex:g, yAxisIndex:g, silent:true, clip:true, z:3,
    data:items.map(function(d,i){return [i]}),
    renderItem:function(params, api){
      var d = items[params.dataIndex];
      var top = d.prof[d.prof.length-1][0];
      if (top===0) return null;
      var pts = d.prof.map(function(p){return api.coord([d.cat+d.side*p[1],p[0]])});
      var foot = api.coord([d.cat,0]), head = api.coord([d.cat,top]);
      // smoothed outline first, then the straight centre line over it
      return {type:'group', children:[
        {type:'polygon', shape:{points:[foot].concat(pts).concat([head]), smooth:.25},
         style:{fill:d.fill, stroke:'#333', lineWidth:3, lineJoin:'round'}},
        {type:'line', shape:{x1:foot[0], y1:foot[1], x2:head[0], y2:head[1]}, style:{stroke:'#333',lineWidth:3}}
      ]};
    }});
  txt(gene, 2748, geneLabelY[r], 33, {weight:'bold'});
});
txt('Expression Level', 1431, 1362, 40, {rot:Math.PI/2});
graphics.push({type:'rect', z:5, silent:true, shape:{x:2883,y:1319,width:43,height:45}, style:{fill:'#76C3C8',stroke:'#333',lineWidth:2}});
graphics.push({type:'rect', z:5, silent:true, shape:{x:2883,y:1364,width:43,height:45}, style:{fill:'#C93A35',stroke:'#333',lineWidth:2}});
txt('Control', 2946, 1341, 35, {align:'left'});
txt('ESCC', 2946, 1386, 35, {align:'left'});

// panel D
txt('D', 20, 1864, 42, {weight:'bold'});
txt('IC50', 25, 2685, 44, {rot:Math.PI/2});
var facetX = [[124,678],[775,1330],[1407,1963],[2059,2613],[2691,3247]];
var facetY = [[1923,1988,2664],[2686,2751,3428]];
drugNames.forEach(function(drug,i){
  var col = i%5, row = Math.floor(i/5);
  var fx = facetX[col], fy = facetY[row];
  var g = addGrid(fx[0], fy[1], fx[1]-fx[0], fy[2]-fy[1], {show:true, backgroundColor:'#EBEBEB', borderWidth:0});
  var ticks = drugTicks[i], step = ticks[1]-ticks[0];
  var digits = step<1 ? 1 : 0;
  xAxes.push({gridIndex:g, type:'value', min:-.6, max:1.6, minInterval:1, maxInterval:1,
    splitLine:{show:true, lineStyle:{color:'#fff',width:3}}, axisLine:{show:false, onZero:false},
    axisTick:{show:row===1, customValues:[0,1], length:11, lineStyle:{color:'#333',width:3}},
    axisLabel:{show:row===1, customValues:[0,1], rotate:45, align:'right', verticalAlign:'top', fontSize:42, fontStyle:'italic', color:'#000', margin:16, fontFamily:FONT, formatter:function(v){return groups[v]}}});
  yAxes.push({gridIndex:g, type:'value', min:drugRange[i][0], max:drugRange[i][1], minInterval:step, maxInterval:step,
    splitLine:{show:true, lineStyle:{color:'#fff',width:4}}, axisLine:{show:false, onZero:false},
    axisTick:{customValues:ticks, length:7, lineStyle:{color:'#333',width:3}},
    axisLabel:{customValues:ticks, fontSize:col===0?41:33, color:col===0?'#1a1a1a':'#4D4D4D', margin:10, fontFamily:FONT, formatter:function(v){return v.toFixed(digits)}}});
  series.push({type:'custom', name:drug, xAxisIndex:g, yAxisIndex:g, silent:true, z:3,
    data:[[0].concat(boxHigh[i]), [1].concat(boxLow[i])],
    renderItem:function(params, api){
      var c = api.value(0), fill = c===0?'#434A85':'#EFC000';
      var lo = api.coord([c,api.value(1)]), q1 = api.coord([c,api.value(2)]), med = api.coord([c,api.value(3)]), q3 = api.coord([c,api.value(4)]), hi = api.coord([c,api.value(5)]);
      var half = Math.abs(api.coord([.375,0])[0]-api.coord([0,0])[0]);
      var line = {stroke:'#333', lineWidth:4};
      return {type:'group', children:[
        {type:'line', shape:{x1:lo[0],y1:lo[1],x2:q1[0],y2:q1[1]}, style:line},
        {type:'line', shape:{x1:q3[0],y1:q3[1],x2:hi[0],y2:hi[1]}, style:line},
        {type:'rect', shape:{x:q1[0]-half,y:q3[1],width:half*2,height:q1[1]-q3[1]}, style:{fill:fill,stroke:'#333',lineWidth:4}},
        {type:'line', shape:{x1:med[0]-half,y1:med[1],x2:med[0]+half,y2:med[1]}, style:{stroke:'#333',lineWidth:8}}
      ]};
    }});
  var out = outHigh[i].map(function(v){return [0,v]}).concat(outLow[i].map(function(v){return [1,v]}));
  series.push({type:'scatter', name:drug+' outliers', xAxisIndex:g, yAxisIndex:g, silent:true, z:4, data:out, symbolSize:17, itemStyle:{color:'#333',opacity:1}});
  graphics.push({type:'rect', z:1, silent:true, shape:{x:fx[0],y:fy[0],width:fx[1]-fx[0],height:fy[1]-fy[0]}, style:{fill:'#D9D9D9'}});
  txt(drug, (fx[0]+fx[1])/2+12, fy[0]+31, 39, {color:'#1A1A1A'});
  var pad = drugP[i].length===5 ? 80 : (i===9 ? 75 : 70);
  txt('Wilcoxon, p = '+drugP[i], fx[0]+pad, row===0?2005:2767, 41, {align:'left', z:1});
});

var chart = echarts.init(document.getElementById('main'), null, {renderer:'canvas'});
chart.setOption({
  animation:false,
  backgroundColor:'#fff',
  textStyle:{fontFamily:FONT},
  grid:grids, xAxis:xAxes, yAxis:yAxes, series:series,
  graphic:{elements:graphics},
  visualMap:[{type:'continuous', seriesIndex:dotSeriesIndex, dimension:3, min:-.94, max:2.5, left:799, top:911, itemWidth:33, itemHeight:165, padding:0,
    calculable:false, text:null, showLabel:false, inRange:{color:['#D3D3D3','#B7A0E3','#9670EE','#6A40F6','#0000FF']}}],
  legend:[
    {data:cellTypes, orient:'vertical', left:2025, top:376, icon:'circle', itemWidth:22, itemHeight:22, itemGap:3.3, selectedMode:false, textStyle:{fontSize:26, color:'#000', padding:[0,0,0,4]}},
    {data:['Control','ESCC'], orient:'vertical', left:3134, top:451, icon:'circle', itemWidth:22, itemHeight:22, itemGap:3, selectedMode:false, textStyle:{fontSize:25, color:'#000', padding:[0,0,0,0]}}
  ]
});
</script>
</body>
</html>
